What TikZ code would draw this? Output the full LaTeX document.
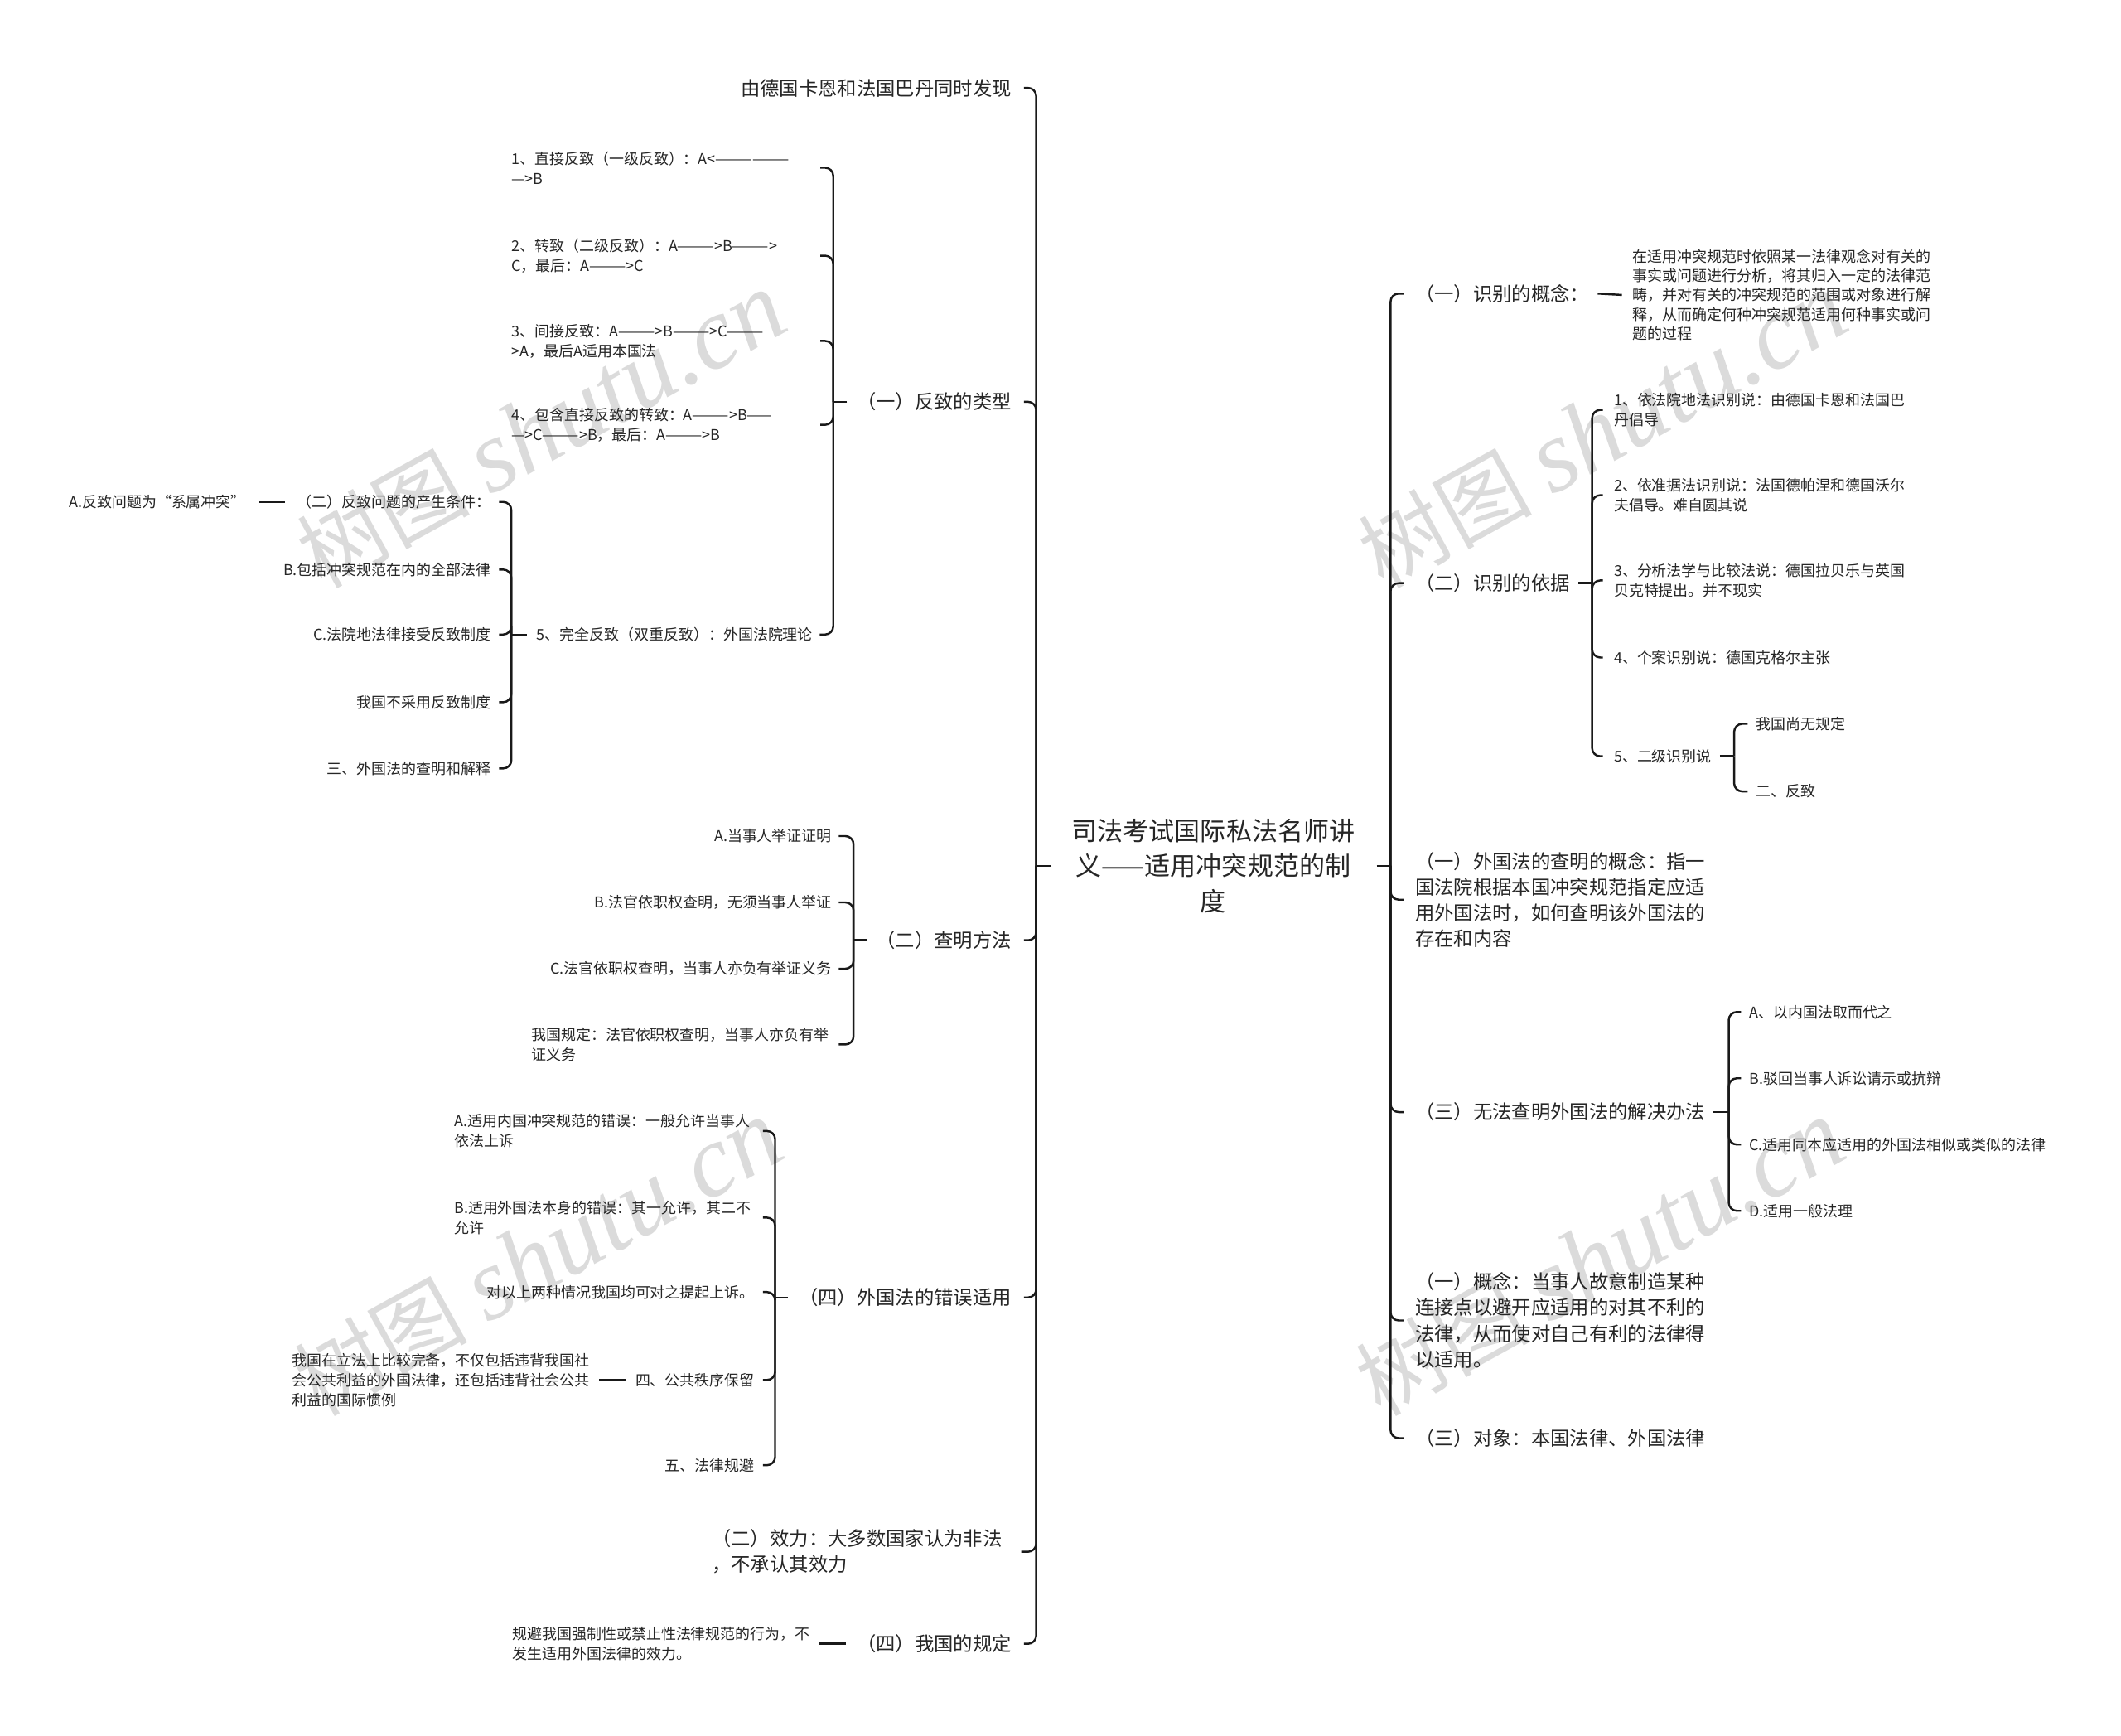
\documentclass[tikz,border=0pt]{standalone}
\usepackage{fontspec}
\setmainfont{Noto Sans CJK SC}
\newfontfamily\wmserif{Liberation Serif}
\newfontfamily\wmcjk{Noto Sans CJK SC}
\tikzset{
  br/.style={line width=1.5pt, rounded corners=6pt, draw=black!90},
  ttl/.style={font=\fontsize{19}{26}\selectfont, align=center, inner sep=0pt, text=black!85},
  big/.style={font=\fontsize{14.3}{19}\selectfont, inner sep=0pt, text=black!85},
  sml/.style={font=\fontsize{11}{14.7}\selectfont, inner sep=0pt, text=black!85},
  wbox/.style={text width=222pt, align=left},
  wm/.style={rotate=29, text=black!14, inner sep=0pt},
}
\begin{document}
\begin{tikzpicture}[x=1pt,y=-1pt]
\useasboundingbox (0,0) rectangle (1568,1283);
\fill[white] (0,0) rectangle (1568,1283);
% watermarks
\foreach \p [count=\i] in {(400,318),(1185,318),(398,930),(1183,930)}
  \node[wm] (wm\i) at \p {\fontsize{64}{64}\selectfont\wmcjk 树图\ {\wmserif\itshape\fontsize{76}{76}\selectfont shutu.cn}};

% root
\node[ttl] (root) at (897,640) {司法考试国际私法名师讲\\义——适用冲突规范的制\\度};
\coordinate (LT) at (766,640);
\coordinate (RT) at (1028,640);
\draw[br] ([xshift=-15pt]root.west) -- (LT);
\draw[br] ([xshift=16pt]root.east) -- (RT);

% ---------------- left side ----------------
\node[big,anchor=east] (l1) at (748,65) {由德国卡恩和法国巴丹同时发现};
\node[big,anchor=east] (l2) at (748,297) {（一）反致的类型};
\node[big,anchor=east] (l3) at (748,695) {（二）查明方法};
\node[big,anchor=east] (l4) at (748,959) {（四）外国法的错误适用};
\node[big,anchor=east,align=left] (l5) at (741,1147) {（二）效力：大多数国家认为非法\\，不承认其效力};
\node[big,anchor=east] (l6) at (748,1215) {（四）我国的规定};
\foreach \n in {l1,l2,l3,l4,l6} \draw[br] (LT) |- ([xshift=9pt]\n.east);
\draw[br] (LT) |- ([xshift=14pt]l5.east);

% (一) 反致的类型
\coordinate (T2) at (616,297);
\draw[br] ([xshift=-7pt]l2.west) -- (T2);
\node[sml,wbox,anchor=west] (l2a) at (378,124) {1、直接反致（一级反致）：A<——————\\—>B};
\node[sml,wbox,anchor=west] (l2b) at (378,189) {2、转致（二级反致）：A———>B———>\\C，最后：A———>C};
\node[sml,wbox,anchor=west] (l2c) at (378,252) {3、间接反致：A———>B———>C———\\>A，最后A适用本国法};
\node[sml,wbox,anchor=west] (l2d) at (378,314) {4、包含直接反致的转致：A———>B——\\—>C———>B，最后：A———>B};
\node[sml,anchor=east] (l2e) at (601,469) {5、完全反致（双重反致）：外国法院理论};
\foreach \n in {l2a,l2b,l2c,l2d} \draw[br] (T2) |- ([xshift=6pt]\n.east);
\draw[br] (T2) |- ([xshift=5pt]l2e.east);

% 5、完全反致 children
\coordinate (T2e) at (378,469);
\draw[br] ([xshift=-7pt]l2e.west) -- (T2e);
\node[sml,anchor=east] (l2e1) at (363,371) {（二）反致问题的产生条件：};
\node[sml,anchor=east] (l2e2) at (363,421) {B.包括冲突规范在内的全部法律};
\node[sml,anchor=east] (l2e3) at (363,469) {C.法院地法律接受反致制度};
\node[sml,anchor=east] (l2e4) at (363,519) {我国不采用反致制度};
\node[sml,anchor=east] (l2e5) at (363,568) {三、外国法的查明和解释};
\foreach \n in {l2e1,l2e2,l2e3,l2e4,l2e5} \draw[br] (T2e) |- ([xshift=6pt]\n.east);
\node[sml,anchor=east] (l2e1a) at (182,371) {A.反致问题为“系属冲突”};
\draw[br] ([xshift=-9pt]l2e1.west) -- ([xshift=10pt]l2e1a.east);

% (二) 查明方法
\coordinate (T3) at (631,695);
\draw[br] ([xshift=-6pt]l3.west) -- (T3);
\node[sml,anchor=east] (l3a) at (615,618) {A.当事人举证证明};
\node[sml,anchor=east] (l3b) at (615,667) {B.法官依职权查明，无须当事人举证};
\node[sml,anchor=east] (l3c) at (615,716) {C.法官依职权查明，当事人亦负有举证义务};
\node[sml,wbox,anchor=east] (l3d) at (615,772) {我国规定：法官依职权查明，当事人亦负有举\\证义务};
\foreach \n in {l3a,l3b,l3c,l3d} \draw[br] (T3) |- ([xshift=5pt]\n.east);

% (四) 外国法的错误适用
\coordinate (T4) at (573,959);
\draw[br] ([xshift=-8pt]l4.west) -- (T4);
\node[sml,wbox,anchor=east] (l4a) at (558,836) {A.适用内国冲突规范的错误：一般允许当事人\\依法上诉};
\node[sml,wbox,anchor=east] (l4b) at (558,900) {B.适用外国法本身的错误：其一允许，其二不\\允许};
\node[sml,anchor=east] (l4c) at (558,955) {对以上两种情况我国均可对之提起上诉。};
\node[sml,anchor=east] (l4d) at (558,1020) {四、公共秩序保留};
\node[sml,anchor=east] (l4e) at (558,1083) {五、法律规避};
\foreach \n in {l4a,l4b,l4c,l4d,l4e} \draw[br] (T4) |- ([xshift=6pt]\n.east);
\node[sml,wbox,anchor=east] (l4d1) at (438,1020) {我国在立法上比较完备，不仅包括违背我国社\\会公共利益的外国法律，还包括违背社会公共\\利益的国际惯例};
\draw[br] ([xshift=-7pt]l4d.west) -- ([xshift=5pt]l4d1.east);

% (四) 我国的规定
\node[sml,wbox,anchor=east] (l6a) at (601,1215) {规避我国强制性或禁止性法律规范的行为，不\\发生适用外国法律的效力。};
\draw[br] ([xshift=-8pt]l6.west) -- ([xshift=5pt]l6a.east);

% ---------------- right side ----------------
\node[big,anchor=west] (r1) at (1046,217) {（一）识别的概念：};
\node[big,anchor=west] (r2) at (1046,431) {（二）识别的依据};
\node[big,anchor=west,align=left] (r3) at (1046,665) {（一）外国法的查明的概念：指一\\国法院根据本国冲突规范指定应适\\用外国法时，如何查明该外国法的\\存在和内容};
\node[big,anchor=west] (r4) at (1046,822) {（三）无法查明外国法的解决办法};
\node[big,anchor=west,align=left] (r5) at (1046,976) {（一）概念：当事人故意制造某种\\连接点以避开应适用的对其不利的\\法律，从而使对自己有利的法律得\\以适用。};
\node[big,anchor=west] (r6) at (1046,1063) {（三）对象：本国法律、外国法律};
\foreach \n in {r1,r2,r3,r4,r5,r6} \draw[br] (RT) |- ([xshift=-8pt]\n.west);

% 识别的概念
\node[sml,anchor=west,align=left,font=\fontsize{11}{14.2}\selectfont] (r1d) at (1207,218) {在适用冲突规范时依照某一法律观念对有关的\\事实或问题进行分析，将其归入一定的法律范\\畴，并对有关的冲突规范的范围或对象进行解\\释，从而确定何种冲突规范适用何种事实或问\\题的过程};
\draw[br] ([xshift=6pt]r1.east) -- ([xshift=-8pt]r1d.west);

% 识别的依据
\coordinate (T5) at (1177,431);
\draw[br] ([xshift=6pt]r2.east) -- (T5);
\node[sml,anchor=west,align=left] (r2a) at (1193,303) {1、依法院地法识别说：由德国卡恩和法国巴\\丹倡导};
\node[sml,anchor=west,align=left] (r2b) at (1193,366) {2、依准据法识别说：法国德帕涅和德国沃尔\\夫倡导。难自圆其说};
\node[sml,anchor=west,align=left] (r2c) at (1193,429) {3、分析法学与比较法说：德国拉贝乐与英国\\贝克特提出。并不现实};
\node[sml,anchor=west] (r2d) at (1193,486) {4、个案识别说：德国克格尔主张};
\node[sml,anchor=west] (r2e) at (1193,559) {5、二级识别说};
\foreach \n in {r2a,r2b,r2c,r2d,r2e} \draw[br] (T5) |- ([xshift=-8pt]\n.west);
\coordinate (T6) at (1282,559);
\draw[br] ([xshift=6pt]r2e.east) -- (T6);
\node[sml,anchor=west] (r2e1) at (1298,535) {我国尚无规定};
\node[sml,anchor=west] (r2e2) at (1298,585) {二、反致};
\foreach \n in {r2e1,r2e2} \draw[br] (T6) |- ([xshift=-6pt]\n.west);

% 无法查明外国法的解决办法
\coordinate (T7) at (1278,822);
\draw[br] ([xshift=6pt]r4.east) -- (T7);
\node[sml,anchor=west] (r4a) at (1293,748) {A、以内国法取而代之};
\node[sml,anchor=west] (r4b) at (1293,797) {B.驳回当事人诉讼请示或抗辩};
\node[sml,anchor=west] (r4c) at (1293,846) {C.适用同本应适用的外国法相似或类似的法律};
\node[sml,anchor=west] (r4d) at (1293,895) {D.适用一般法理};
\foreach \n in {r4a,r4b,r4c,r4d} \draw[br] (T7) |- ([xshift=-6pt]\n.west);
\end{tikzpicture}
\end{document}
